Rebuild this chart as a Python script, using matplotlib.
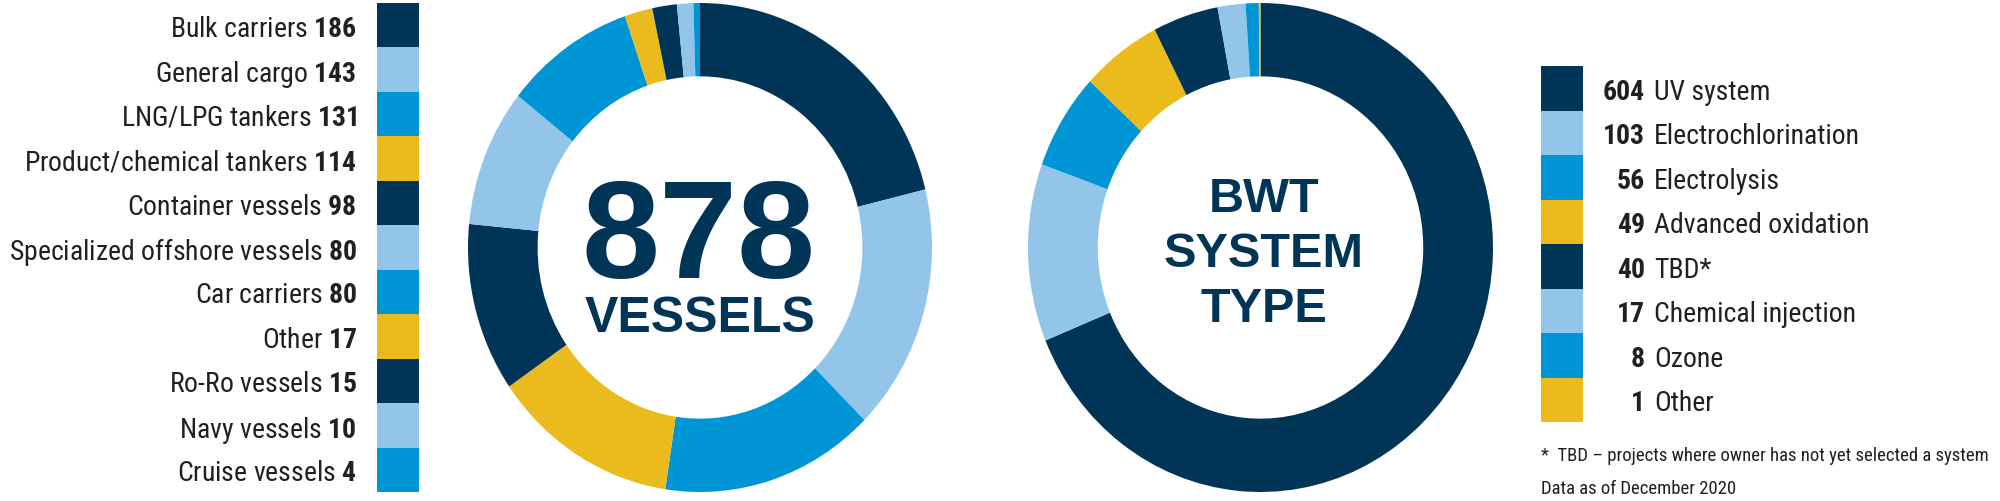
import matplotlib
matplotlib.use('Agg')
import matplotlib.pyplot as plt
from matplotlib import font_manager as fm
from matplotlib.transforms import blended_transform_factory

# vessel types (left donut)
vessel_types = ['Bulk carriers', 'General cargo', 'LNG/LPG tankers', 'Product/chemical tankers',
                'Container vessels', 'Specialized offshore vessels', 'Car carriers', 'Other',
                'Ro-Ro vessels', 'Navy vessels', 'Cruise vessels']
vessel_counts = [186, 143, 131, 114, 98, 80, 80, 17, 15, 10, 4]

# BWT system types (right donut)
system_types = ['UV system', 'Electrochlorination', 'Electrolysis', 'Advanced oxidation',
                'TBD*', 'Chemical injection', 'Ozone', 'Other']
system_counts = [604, 103, 56, 49, 40, 17, 8, 1]

total_label = '878'
footnote = '*  TBD \u2013 projects where owner has not yet selected a system'
data_note = 'Data as of December 2020'

NAVY = '#003558'
LIGHT = '#93c5ea'
MID = '#0096d6'
YELLOW = '#ebbb1d'
TEXT = '#231f20'
palette = [NAVY, LIGHT, MID, YELLOW]

# pick a condensed face if one is around
avail = {f.name for f in fm.fontManager.ttflist}
cond = next((n for n in ['Liberation Sans Narrow', 'Roboto Condensed', 'Open Sans Condensed']
             if n in avail), 'Liberation Sans')
plt.rcParams['font.family'] = [cond, 'DejaVu Sans']
plt.rcParams['mathtext.fontset'] = 'custom'
plt.rcParams['mathtext.rm'] = cond
plt.rcParams['mathtext.bf'] = cond + ':bold'

W, H = 2000, 502
fig = plt.figure(figsize=(W / 100, H / 100), dpi=100)


def box(x0, y0, x1, y1):
    # pixel box (top-left origin) -> figure fraction rect
    return [x0 / W, (H - y1) / H, (x1 - x0) / W, (y1 - y0) / H]


def donut(rect, values):
    ax = fig.add_axes(rect)
    cols = [palette[i % 4] for i in range(len(values))]
    ax.pie(values, colors=cols, startangle=90, counterclock=False, radius=1,
           wedgeprops=dict(width=0.3, linewidth=0))
    ax.set_aspect('auto')
    ax.set_xlim(-1, 1)
    ax.set_ylim(-1, 1)
    ax.axis('off')
    return ax


# left donut
donut(box(468, 4, 932, 493), vessel_counts)
fig.text(699 / W, 1 - 278 / H, total_label, ha='center', va='baseline', color=NAVY,
         fontsize=101, fontweight='bold', family='Liberation Sans')
fig.text(700 / W, 1 - 332 / H, 'VESSELS', ha='center', va='baseline', color=NAVY,
         fontsize=36, fontweight='bold', family='Liberation Sans')

# right donut
donut(box(1028, 4, 1493, 493), system_counts)
for txt, yb in zip(['BWT', 'SYSTEM', 'TYPE'], [212, 267, 322]):
    fig.text(1264 / W, 1 - yb / H, txt, ha='center', va='baseline', color=NAVY,
             fontsize=35, fontweight='bold', family='Liberation Sans')

# left legend
axl = fig.add_axes(box(377, 4, 419, 493))
n = len(vessel_counts)
axl.barh(range(n), [1] * n, height=1, left=0, color=[palette[i % 4] for i in range(n)])
axl.set_xlim(0, 1)
axl.set_ylim(n - 0.5, -0.5)
axl.axis('off')
tl = blended_transform_factory(fig.transFigure, axl.transData)
for i, (name, cnt) in enumerate(zip(vessel_types, vessel_counts)):
    axl.text(357 / W, i, name + r' $\mathbf{' + str(cnt) + '}$', transform=tl,
             ha='right', va='center_baseline', fontsize=20, color=TEXT)

# right legend
axr = fig.add_axes(box(1541, 67, 1583, 423))
m = len(system_counts)
axr.barh(range(m), [1] * m, height=1, left=0, color=[palette[i % 4] for i in range(m)])
axr.set_xlim(0, 1)
axr.set_ylim(m - 0.5, -0.5)
axr.axis('off')
tr = blended_transform_factory(fig.transFigure, axr.transData)
for i, (name, cnt) in enumerate(zip(system_types, system_counts)):
    axr.text(1645 / W, i, str(cnt), transform=tr, ha='right', va='center_baseline',
             fontsize=20, fontweight='bold', color=TEXT)
    axr.text(1654 / W, i, name, transform=tr, ha='left', va='center_baseline',
             fontsize=20, color=TEXT)

fig.text(1541 / W, 1 - 461 / H, footnote, ha='left', va='baseline', fontsize=13.5, color=TEXT)
fig.text(1541 / W, 1 - 494 / H, data_note, ha='left', va='baseline', fontsize=13.5, color=TEXT)

fig.savefig('out.png', dpi=100, facecolor='white')
